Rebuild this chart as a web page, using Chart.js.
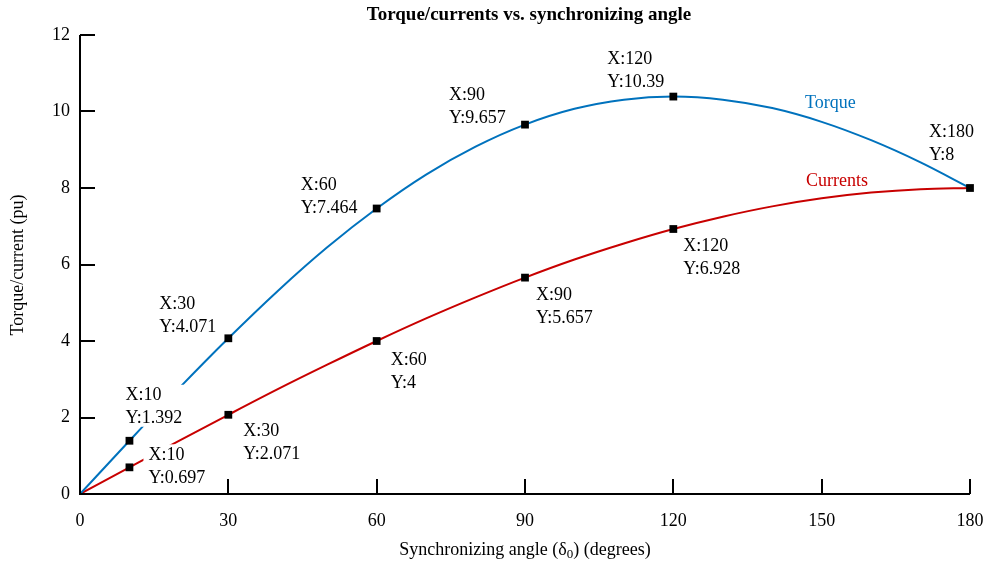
<!DOCTYPE html>
<html>
<head>
<meta charset="utf-8">
<script src="https://cdn.jsdelivr.net/npm/chart.js@4"></script>
<style>
  html, body { margin: 0; padding: 0; background: #fff; }
  #wrap { width: 987px; height: 565px; }
</style>
</head>
<body>
<div id="wrap"><canvas id="plot"></canvas></div>
<script>
// sampled curves, every 10 degrees
const angles   = [0, 10, 20, 30, 40, 50, 60, 70, 80, 90, 100, 110, 120, 130, 140, 150, 160, 170, 180];
const torque   = [0, 1.392, 2.76, 4.071, 5.31, 6.45, 7.464, 8.35, 9.08, 9.657, 10.07, 10.31, 10.39, 10.31, 10.09, 9.73, 9.25, 8.67, 8];
const currents = [0, 0.697, 1.39, 2.071, 2.74, 3.38, 4, 4.59, 5.14, 5.657, 6.13, 6.55, 6.928, 7.25, 7.52, 7.73, 7.88, 7.97, 8];

// data tips
const torqueTipX  = [10, 30, 60, 90, 120, 180];
const torqueTipY  = [1.392, 4.071, 7.464, 9.657, 10.39, 8];
const currentTipX = [10, 30, 60, 90, 120];
const currentTipY = [0.697, 2.071, 4, 5.657, 6.928];

const xTicks = [0, 30, 60, 90, 120, 150, 180];
const yTicks = [0, 2, 4, 6, 8, 10, 12];

// where each tip's text sits relative to its marker (left edge, first line centre)
const torqueTipPos  = [[-4, -45], [-69, -34], [-76, -23], [-76, -29], [-66, -37], [-41, -56]];
const currentTipPos = [[19, -12], [15, 16], [14, 19], [11, 18], [10, 17]];

const BLUE = '#0072bd';
const RED = '#c80000';
const SERIF = '"Liberation Serif", "Times New Roman", serif';

const toPts = (xs, ys) => xs.map((x, i) => ({ x: x, y: ys[i] }));

function drawTips(ctx, xs, ys, pos, sx, sy) {
  ctx.font = '18px ' + SERIF;
  ctx.textBaseline = 'middle';
  ctx.textAlign = 'left';
  xs.forEach((x, i) => {
    const px = sx.getPixelForValue(x) + pos[i][0];
    const py = sy.getPixelForValue(ys[i]) + pos[i][1];
    const lines = ['X:' + x, 'Y:' + ys[i]];
    const w = Math.max(...lines.map(t => ctx.measureText(t).width));
    ctx.fillStyle = '#fff';
    ctx.fillRect(px - 5, py - 11, w + 8, 42);
    ctx.fillStyle = '#000';
    lines.forEach((t, j) => ctx.fillText(t, px, py + j * 23));
  });
}

const tipsPlugin = {
  id: 'tips',
  beforeDatasetDraw(chart, args) {
    if (args.index !== 0) return;
    const ctx = chart.ctx, sx = chart.scales.x, sy = chart.scales.y;
    ctx.save();
    drawTips(ctx, torqueTipX, torqueTipY, torqueTipPos, sx, sy);
    drawTips(ctx, currentTipX, currentTipY, currentTipPos, sx, sy);
    // curve names
    ctx.font = '18px ' + SERIF;
    ctx.textBaseline = 'middle';
    ctx.fillStyle = BLUE;
    ctx.fillText('Torque', 805, 103);
    ctx.fillStyle = RED;
    ctx.fillText('Currents', 806, 181);
    ctx.restore();
  }
};

const framePlugin = {
  id: 'frame',
  afterDraw(chart) {
    const ctx = chart.ctx, sx = chart.scales.x, sy = chart.scales.y;
    const a = chart.chartArea;
    ctx.save();
    ctx.strokeStyle = '#000';
    ctx.lineWidth = 2;
    ctx.beginPath();
    ctx.moveTo(a.left, a.top);
    ctx.lineTo(a.left, a.bottom);
    ctx.lineTo(a.right, a.bottom);
    // inward ticks
    yTicks.forEach(v => {
      const y = Math.round(sy.getPixelForValue(v));
      ctx.moveTo(a.left, y);
      ctx.lineTo(a.left + 15, y);
    });
    xTicks.forEach(v => {
      const x = Math.round(sx.getPixelForValue(v));
      ctx.moveTo(x, a.bottom);
      ctx.lineTo(x, a.bottom - 15);
    });
    ctx.stroke();

    ctx.fillStyle = '#000';
    ctx.textBaseline = 'middle';
    ctx.textAlign = 'center';
    ctx.font = 'bold 19px ' + SERIF;
    ctx.fillText('Torque/currents vs. synchronizing angle', 529, 15);

    // x title with subscript
    ctx.font = '18px ' + SERIF;
    const p1 = 'Synchronizing angle (\u03b4', sub = '0', p2 = ') (degrees)';
    const w1 = ctx.measureText(p1).width, w2 = ctx.measureText(p2).width;
    ctx.font = '13px ' + SERIF;
    const ws = ctx.measureText(sub).width;
    let x0 = 525 - (w1 + ws + w2) / 2;
    ctx.textAlign = 'left';
    ctx.font = '18px ' + SERIF;
    ctx.fillText(p1, x0, 550);
    ctx.font = '13px ' + SERIF;
    ctx.fillText(sub, x0 + w1, 555);
    ctx.font = '18px ' + SERIF;
    ctx.fillText(p2, x0 + w1 + ws, 550);

    ctx.translate(18, 265);
    ctx.rotate(-Math.PI / 2);
    ctx.textAlign = 'center';
    ctx.fillText('Torque/current (pu)', 0, 0);
    ctx.restore();
  }
};

new Chart(document.getElementById('plot'), {
  type: 'scatter',
  data: {
    datasets: [{
      label: 'tips',
      data: toPts(torqueTipX, torqueTipY).concat(toPts(currentTipX, currentTipY)),
      pointStyle: 'rect',
      pointRadius: 5.5,
      pointBorderWidth: 0,
      pointBackgroundColor: '#000',
      showLine: false,
      clip: false
    }, {
      label: 'Torque',
      data: toPts(angles, torque),
      showLine: true,
      borderColor: BLUE,
      borderWidth: 2,
      pointRadius: 0,
      cubicInterpolationMode: 'monotone'
    }, {
      label: 'Currents',
      data: toPts(angles, currents),
      showLine: true,
      borderColor: RED,
      borderWidth: 2,
      pointRadius: 0,
      cubicInterpolationMode: 'monotone'
    }]
  },
  options: {
    responsive: true,
    maintainAspectRatio: false,
    animation: false,
    layout: { padding: { top: 35, right: 17, left: 0, bottom: 0 } },
    plugins: { legend: { display: false }, tooltip: { enabled: false } },
    scales: {
      x: {
        type: 'linear', min: 0, max: 180,
        afterFit: s => { s.height = 71; s.paddingLeft = 0; s.paddingRight = 0; },
        afterBuildTicks: s => { s.ticks = xTicks.map(v => ({ value: v })); },
        grid: { display: false },
        border: { display: false },
        ticks: { color: '#000', padding: 8, font: { family: SERIF, size: 18 }, maxRotation: 0 }
      },
      y: {
        min: 0, max: 12,
        afterFit: s => { s.width = 80; s.paddingTop = 0; s.paddingBottom = 0; },
        afterBuildTicks: s => { s.ticks = yTicks.map(v => ({ value: v })); },
        grid: { display: false },
        border: { display: false },
        ticks: { color: '#000', padding: 2, font: { family: SERIF, size: 18 } }
      }
    }
  },
  plugins: [tipsPlugin, framePlugin]
});
</script>
</body>
</html>
